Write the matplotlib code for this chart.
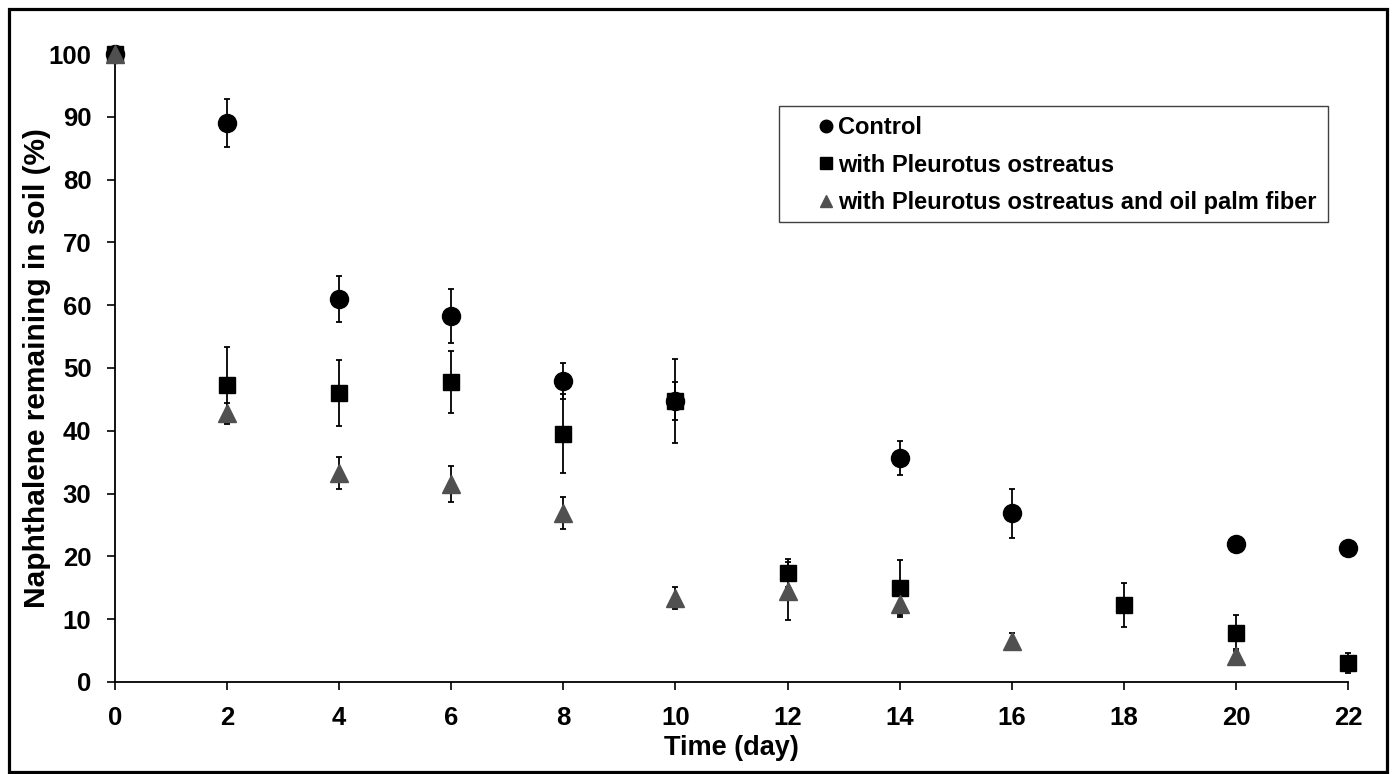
import matplotlib.pyplot as plt
from matplotlib.patches import Rectangle
from matplotlib.lines import Line2D

plt.rcParams['font.family'] = ['Liberation Sans', 'DejaVu Sans']
plt.rcParams['font.weight'] = 'bold'

# data
days_ctrl = [0, 2, 4, 6, 8, 10, 14, 16, 20, 22]
ctrl = [100, 89.0, 61.0, 58.3, 47.9, 44.7, 35.6, 26.9, 21.9, 21.4]
ctrl_err = [0, 3.8, 3.7, 4.3, 2.9, 3.0, 2.7, 3.9, 0, 0]

days_po = [0, 2, 4, 6, 8, 10, 12, 14, 18, 20, 22]
po = [100, 47.3, 46.0, 47.8, 39.5, 44.7, 17.4, 15.0, 12.3, 7.8, 3.0]
po_err = [0, 6.1, 5.3, 4.9, 6.3, 6.7, 2.2, 4.4, 3.5, 2.8, 1.6]

days_pof = [0, 2, 4, 6, 8, 10, 12, 14, 16, 20]
pof = [100, 42.8, 33.3, 31.5, 26.9, 13.4, 14.5, 12.4, 6.6, 4.2]
pof_err = [0, 1.7, 2.5, 2.9, 2.5, 1.8, 4.6, 2.0, 1.2, 1.0]

labels = ['Control', 'with Pleurotus ostreatus',
          'with Pleurotus ostreatus and oil palm fiber']
gray = '#505050'

W, H = 1396, 774
fig = plt.figure(figsize=(W / 100, H / 100), dpi=100)
ax = fig.add_axes([0.0824, 0.1189, 0.8832, 0.8113])

# error bars first, then markers
for d, v, e in [(days_ctrl, ctrl, ctrl_err), (days_po, po, po_err),
                (days_pof, pof, pof_err)]:
    ax.errorbar(d, v, yerr=e, fmt='none', ecolor='black', elinewidth=1.3,
                capsize=2.2, capthick=1.3, zorder=2, clip_on=False)

ax.plot(days_ctrl, ctrl, 'o', color='black', markersize=13, zorder=3, clip_on=False)
ax.plot(days_po, po, 's', color='black', markersize=11.5, zorder=4, clip_on=False)
ax.plot(days_pof, pof, '^', color=gray, markersize=12.5, zorder=5, clip_on=False)

ax.set_xlim(0, 22)
ax.set_ylim(0, 100)
ax.set_xticks(range(0, 23, 2))
ax.set_yticks(range(0, 101, 10))
ax.tick_params(direction='out', length=6, width=1.2, labelsize=18.5, pad=11)
for s in ['top', 'right']:
    ax.spines[s].set_visible(False)
for s in ['left', 'bottom']:
    ax.spines[s].set_linewidth(1.3)

ax.set_xlabel('Time (day)', fontsize=19.5, fontweight='bold', labelpad=4)
ax.set_ylabel('Naphthalene remaining in soil (%)', fontsize=21.5,
              fontweight='bold', labelpad=-2)

# legend (own frame so the left padding can be wider than the top one)
handles = [Line2D([], [], marker='o', color='black', linestyle='none', markersize=9),
           Line2D([], [], marker='s', color='black', linestyle='none', markersize=8.5),
           Line2D([], [], marker='^', color=gray, linestyle='none', markersize=9)]
leg = fig.legend(handles, labels, loc='upper left',
                 bbox_to_anchor=(818 / W, 1 - 116 / H),
                 fontsize=17, frameon=False, handlelength=0.7,
                 handletextpad=0.15, labelspacing=0.62, borderpad=0,
                 borderaxespad=0)
fig.patches.append(Rectangle((779 / W, 1 - 222 / H), (1328 - 779) / W,
                             (222 - 106) / H, transform=fig.transFigure,
                             fill=False, edgecolor='#404040', linewidth=1.0))

# border around the whole picture
fig.patches.append(Rectangle((9 / W, 1 - 772 / H), (1387 - 9) / W,
                             (772 - 9) / H, transform=fig.transFigure,
                             fill=False, edgecolor='black', linewidth=2.3))

plt.savefig('out.png', dpi=100)
